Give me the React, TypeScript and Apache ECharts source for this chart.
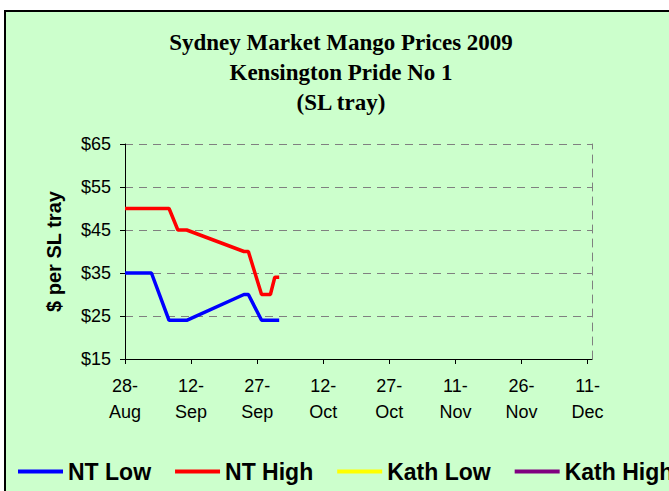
import React, { useEffect, useRef } from "react";
import * as echarts from "echarts";

const titleLines = ["Sydney Market Mango Prices 2009", "Kensington Pride No 1", "(SL tray)"];
const startDate = "2009-08-28";
const xTickLabels = ["28-\nAug", "12-\nSep", "27-\nSep", "12-\nOct", "27-\nOct", "11-\nNov", "26-\nNov", "11-\nDec"];
const yTicks = [15, 25, 35, 45, 55, 65];

const ntLowDates = ["2009-08-28", "2009-09-03", "2009-09-07", "2009-09-11", "2009-09-24", "2009-09-25", "2009-09-28", "2009-10-02"];
const ntLowValues = [35, 35, 24, 24, 30, 30, 24, 24];

const ntHighDates = ["2009-08-28", "2009-09-07", "2009-09-09", "2009-09-11", "2009-09-24", "2009-09-25", "2009-09-28", "2009-09-30", "2009-10-01", "2009-10-02"];
const ntHighValues = [50, 50, 45, 45, 40, 40, 30, 30, 34, 34];

const kathLowDates: string[] = [];
const kathLowValues: number[] = [];
const kathHighDates: string[] = [];
const kathHighValues: number[] = [];

const seriesNames = ["NT Low", "NT High", "Kath Low", "Kath High"];
const seriesColors = ["#0000FF", "#FF0000", "#FFFF00", "#800080"];

const dayOf = (s: string) => (Date.parse(s) - Date.parse(startDate)) / 86400000;
const pairs = (d: string[], v: number[]) => d.map((s, i) => [dayOf(s), v[i]]);

export default function App() {
  const ref = useRef<HTMLDivElement>(null);
  useEffect(() => {
    if (!ref.current) return;
    const chart = echarts.init(ref.current, null, { renderer: "svg" });
    const sans = 'Arial, "Liberation Sans", sans-serif';
    const serif = '"Times New Roman", "Liberation Serif", serif';
    const tickDays = xTickLabels.map((_, i) => i * 15);
    const allData = [
      pairs(ntLowDates, ntLowValues),
      pairs(ntHighDates, ntHighValues),
      pairs(kathLowDates, kathLowValues),
      pairs(kathHighDates, kathHighValues),
    ];
    chart.setOption({
      animation: false,
      backgroundColor: "#ffffff",
      graphic: [
        {
          type: "rect",
          z: -100,
          shape: { x: 5, y: 11, width: 720, height: 520 },
          style: { fill: "#CCFFCC", stroke: "#000000", lineWidth: 2 },
          silent: true,
        },
      ],
      title: {
        text: titleLines.join("\n"),
        left: 341,
        top: 27,
        padding: 0,
        textAlign: "center",
        textStyle: { fontFamily: serif, fontWeight: "bold", fontSize: 23, lineHeight: 30, color: "#000" },
      },
      legend: {
        left: 18,
        top: 460,
        padding: 0,
        width: 1200,
        itemGap: 24,
        itemWidth: 45,
        itemHeight: 4,
        icon: "rect",
        data: seriesNames,
        textStyle: { fontFamily: sans, fontWeight: "bold", fontSize: 23, color: "#000" },
      },
      grid: { left: 125, right: 77, top: 144, bottom: 132 },
      xAxis: {
        type: "value",
        min: 0,
        max: 106,
        interval: 15,
        axisLine: { show: true, lineStyle: { color: "#000", width: 1 } },
        axisTick: { show: true, length: 5, customValues: tickDays, lineStyle: { color: "#000" } },
        splitLine: { show: false },
        axisLabel: {
          customValues: tickDays,
          formatter: (v: number) => xTickLabels[Math.round(v / 15)] ?? "",
          fontFamily: sans,
          fontSize: 18,
          lineHeight: 26,
          color: "#000",
          margin: 14,
        },
      },
      yAxis: [
        {
          type: "value",
          min: yTicks[0],
          max: yTicks[yTicks.length - 1],
          interval: 10,
          name: "$ per SL tray",
          nameLocation: "middle",
          nameRotate: 90,
          nameGap: 61,
          nameTextStyle: { fontFamily: sans, fontWeight: "bold", fontSize: 20, color: "#000" },
          axisLine: { show: true, lineStyle: { color: "#000", width: 1 } },
          axisTick: { show: true, length: 5, lineStyle: { color: "#000" } },
          axisLabel: {
            formatter: (v: number) => "$" + v,
            fontFamily: sans,
            fontSize: 18,
            color: "#000",
            margin: 14,
          },
          splitLine: { show: true, lineStyle: { color: "#808080", width: 1, type: [8, 6] } },
        },
        {
          type: "value",
          position: "right",
          min: yTicks[0],
          max: yTicks[yTicks.length - 1],
          interval: 10,
          axisLine: { show: true, lineStyle: { color: "#808080", width: 1, type: [8, 6] } },
          axisTick: { show: false },
          axisLabel: { show: false },
          splitLine: { show: false },
        },
      ],
      series: seriesNames.map((name, i) => ({
        name,
        type: "line",
        yAxisIndex: 0,
        data: allData[i],
        showSymbol: false,
        symbol: "none",
        color: seriesColors[i],
        lineStyle: { color: seriesColors[i], width: 3.5 },
      })),
    });
    return () => chart.dispose();
  }, []);
  return (
    <div
      ref={ref}
      style={{ position: "fixed", left: 0, top: 0, width: 669, height: 491 }}
    />
  );
}
